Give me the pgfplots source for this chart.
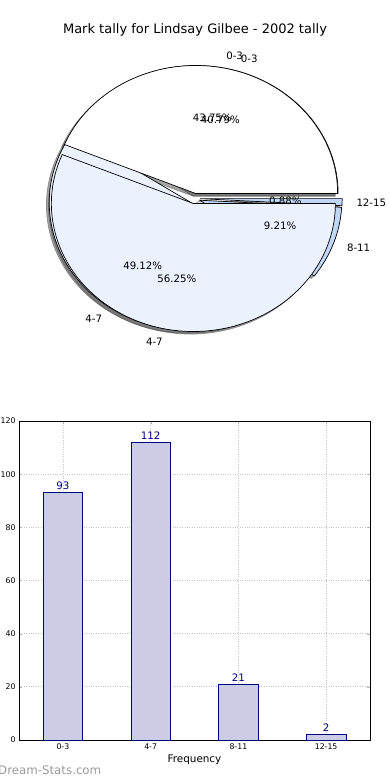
\documentclass[border=0pt]{standalone}
\usepackage{pgfplots}
\pgfplotsset{compat=1.18}
\usepackage{pgfplotstable}
\usepackage{fontspec}
\setmainfont{DejaVu Sans}
\definecolor{cA}{HTML}{FFFFFF}
\definecolor{cB}{HTML}{EBF1FD}
\definecolor{cC}{HTML}{C0D6F6}
\definecolor{cD}{HTML}{C0D6F6}
\definecolor{barfill}{HTML}{CCCCE6}
\definecolor{navyc}{HTML}{000080}
\definecolor{wm}{HTML}{9A9A9A}

\pgfplotstableread{
idx label count
0 0-3 93
1 4-7 112
2 8-11 21
3 12-15 2
}\bardata

% pie 1 uses the counts; pie 2 uses the percentages 43.75 and 56.25
\pgfmathsetmacro\Ptot{93+112+21+2}
\pgfmathsetmacro\Pa{93/\Ptot*360}
\pgfmathsetmacro\Pb{\Pa+112/\Ptot*360}
\pgfmathsetmacro\Pc{\Pb+21/\Ptot*360}
\pgfmathsetmacro\Qa{43.75/100*360}

\newcommand\wedgepath[4]{(axis cs:{0.04*cos((#1+#2)/2)+#3},{0.04*sin((#1+#2)/2)+#4}) -- ++({142pt*cos(#1)},{128pt*sin(#1)}) arc[start angle=#1,end angle=#2,x radius=142pt,y radius=128pt] -- cycle}
\newcommand\shadowwedge[2]{\filldraw[fill=black!70,draw=black!70,opacity=0.5,line width=0.7pt] \wedgepath{#1}{#2}{-0.02}{-0.02};}
\newcommand\pwedge[3]{\filldraw[fill=#3,draw=black,line width=0.7pt] \wedgepath{#1}{#2}{0}{0};}
\newcommand\plabel[4]{\node[anchor=#4,inner sep=0pt] at (axis cs:{1.14*cos((#1+#2)/2)},{1.14*sin((#1+#2)/2)}) {#3};}
\newcommand\ppct[3]{\node[inner sep=0pt] at (axis cs:{0.64*cos((#1+#2)/2)},{0.64*sin((#1+#2)/2)}) {#3};}

\begin{document}
\begin{tikzpicture}
\useasboundingbox (0,0) rectangle (390pt,-780pt);
\node at (195pt,-30pt) {\fontsize{13}{15}\selectfont Mark tally for Lindsay Gilbee - 2002 tally};

\begin{axis}[at={(194.5pt,-198.5pt)}, anchor=center, scale only axis,
  width=397.6pt, height=358.4pt, xmin=-1.4, xmax=1.4, ymin=-1.4, ymax=1.4,
  hide axis, clip=false]
  % shadows
  \shadowwedge{0}{\Pa}
  \shadowwedge{\Pa}{\Pb}
  \shadowwedge{\Pb}{\Pc}
  \shadowwedge{\Pc}{360}
  \shadowwedge{0}{\Qa}
  \shadowwedge{\Qa}{360}
  % pie 1
  \pwedge{0}{\Pa}{cA}
  \pwedge{\Pa}{\Pb}{cB}
  \pwedge{\Pb}{\Pc}{cC}
  \pwedge{\Pc}{360}{cD}
  % pie 2
  \pwedge{0}{\Qa}{cA}
  \pwedge{\Qa}{360}{cB}
  % texts
  \begin{scope}[font=\fontsize{10.2}{12}\selectfont]
  \plabel{0}{\Pa}{0-3}{west}
  \plabel{\Pa}{\Pb}{4-7}{east}
  \plabel{\Pb}{\Pc}{8-11}{west}
  \plabel{\Pc}{360}{12-15}{west}
  \ppct{0}{\Pa}{40.79\%}
  \ppct{\Pa}{\Pb}{49.12\%}
  \ppct{\Pb}{\Pc}{9.21\%}
  \ppct{\Pc}{360}{0.88\%}
  \plabel{0}{\Qa}{0-3}{west}
  \plabel{\Qa}{360}{4-7}{east}
  \ppct{0}{\Qa}{43.75\%}
  \ppct{\Qa}{360}{56.25\%}
  \end{scope}
\end{axis}

\begin{axis}[at={(19pt,-740pt)}, anchor=south west, scale only axis,
  width=351pt, height=319pt,
  xmin=-0.5, xmax=3.5, ymin=0, ymax=120,
  ytick={0,20,...,120},
  xtick=data, xticklabels from table={\bardata}{label},
  ybar, bar width=0.45,
  grid=major, grid style={dotted, gray!45, line width=0.7pt},
  tick align=inside, major tick length=3pt, tick style={gray!60},
  axis line style={black, line width=0.8pt},
  tick label style={font=\fontsize{7.8}{9}\selectfont},
  /pgf/number format/assume math mode=true,
  xlabel={Frequency}, xlabel style={font=\fontsize{10.4}{12}\selectfont, yshift=1pt},
  nodes near coords,
  nodes near coords style={font=\fontsize{10.3}{12}\selectfont, text=navyc, anchor=south, inner sep=2.5pt},
]
\addplot[fill=barfill, draw=navyc, line width=0.7pt] table[x=idx,y=count] {\bardata};
\end{axis}

\node[anchor=west, text=wm, inner sep=0pt] at (-2pt,-770pt) {\fontsize{11.8}{13}\selectfont Dream-Stats.com};
\end{tikzpicture}
\end{document}
